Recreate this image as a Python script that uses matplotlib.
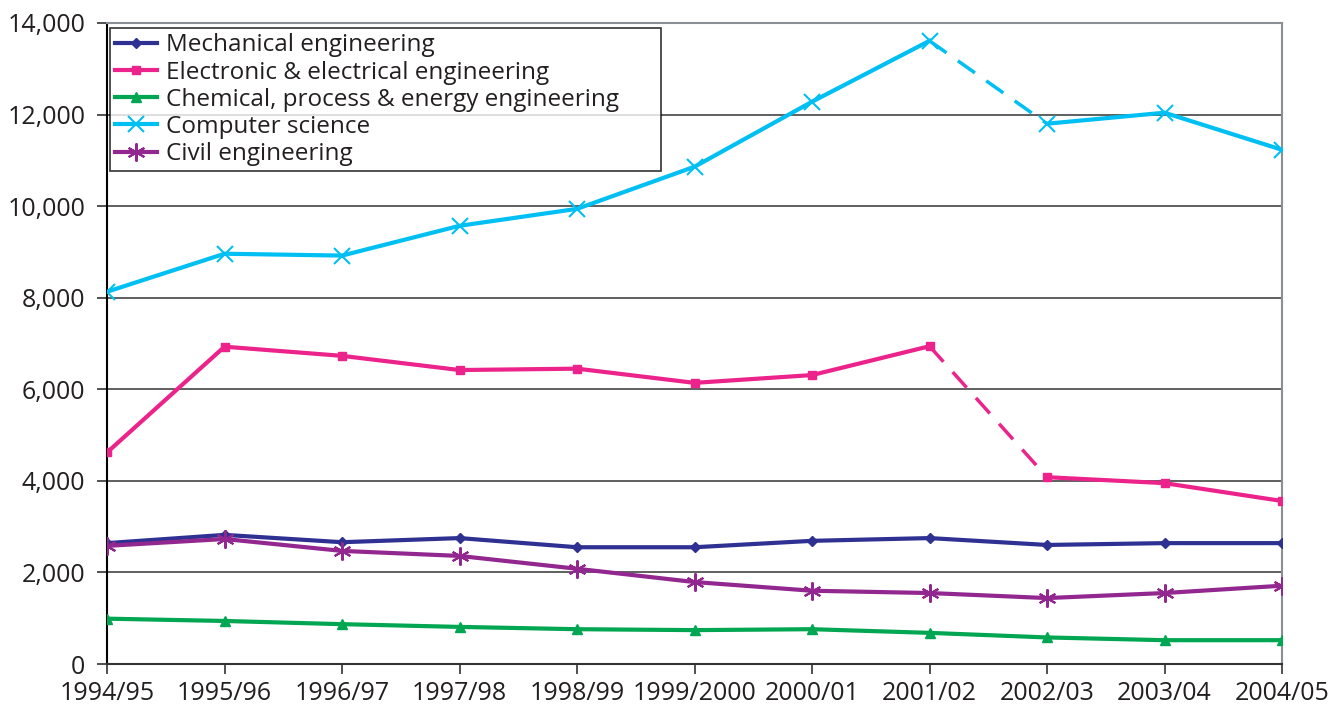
import numpy as np
import matplotlib.pyplot as plt

plt.rcParams['font.family'] = ['Open Sans', 'DejaVu Sans']

years = ['1994/95', '1995/96', '1996/97', '1997/98', '1998/99', '1999/2000',
         '2000/01', '2001/02', '2002/03', '2003/04', '2004/05']

mechanical = [2640, 2820, 2660, 2750, 2550, 2550, 2690, 2750, 2600, 2640, 2640]
electronic = [4620, 6930, 6730, 6420, 6450, 6140, 6310, 6940, 4080, 3950, 3560]
chemical = [990, 940, 870, 810, 760, 740, 760, 680, 580, 520, 520]
computer = [8130, 8960, 8920, 9570, 9940, 10860, 12280, 13610, 11800, 12040, 11230]
civil = [2580, 2730, 2470, 2360, 2080, 1790, 1600, 1550, 1440, 1550, 1710]

series = [
    ('Mechanical engineering', mechanical, '#2E3192', 'D', 5, False),
    ('Electronic & electrical engineering', electronic, '#EC238A', 's', 6, True),
    ('Chemical, process & energy engineering', chemical, '#00A651', '^', 7, False),
    ('Computer science', computer, '#00BFF3', 'x', 11, True),
    ('Civil engineering', civil, '#92278F', (6, 2, 0), 13, False),
]

txt = '#231F20'

fig = plt.figure(figsize=(13.36, 7.11), dpi=100)
ax = fig.add_axes([0.0801, 0.0661, 0.8795, 0.9016])

x = np.arange(len(years))
handles = []
for name, vals, col, mk, ms, dashed in series:
    v = np.array(vals)
    mew = 1.5 if mk in ('x',) or isinstance(mk, tuple) else 1
    if dashed:
        # break between 2001/02 and 2002/03 drawn dashed
        ax.plot(x[:8], v[:8], color=col, lw=3, zorder=3)
        ax.plot(x[7:9], v[7:9], color=col, lw=2.5, ls=(0, (6, 4)), zorder=3)
        ax.plot(x[8:], v[8:], color=col, lw=3, zorder=3)
        ax.plot(x, v, ls='none', marker=mk, ms=ms, color=col, mew=mew, zorder=4)
        h, = ax.plot([], [], color=col, lw=3, marker=mk, ms=ms, mew=mew)
    else:
        h, = ax.plot(x, v, color=col, lw=3, marker=mk, ms=ms, mew=mew, zorder=3)
    handles.append((h, name))

ax.set_xlim(0, 10)
ax.set_ylim(0, 14000)
ax.set_xticks(x)
ax.set_xticklabels(years)
ax.set_yticks(np.arange(0, 14001, 2000))
ax.set_yticklabels([f'{t:,}' for t in range(0, 14001, 2000)])
ax.tick_params(labelsize=18, length=7.5, width=1.2, direction='out',
               color='#333333', labelcolor=txt, pad=8)
ax.tick_params(axis='x', pad=5)

ax.yaxis.grid(True, color='#444444', lw=1.2)
ax.set_axisbelow(True)
ax.spines['left'].set_color('black')
ax.spines['bottom'].set_color('#333333')
ax.spines['top'].set_color('#8a8f96')
ax.spines['right'].set_color('#8a8f96')
for s in ax.spines.values():
    s.set_linewidth(1.5)

leg = ax.legend([h for h, _ in handles], [n for _, n in handles],
                loc='upper left', bbox_to_anchor=(0.0026, 0.5, 0.469, 0.492),
                mode='expand', fontsize=17.5,
                frameon=True, fancybox=False, edgecolor='black',
                borderpad=0.22, labelspacing=0.13, handlelength=1.7,
                handletextpad=0.4, borderaxespad=0)
for t in leg.get_texts():
    t.set_color(txt)
leg.get_frame().set_linewidth(1.2)
leg.set_zorder(5)

fig.savefig('out.png', dpi=100)
